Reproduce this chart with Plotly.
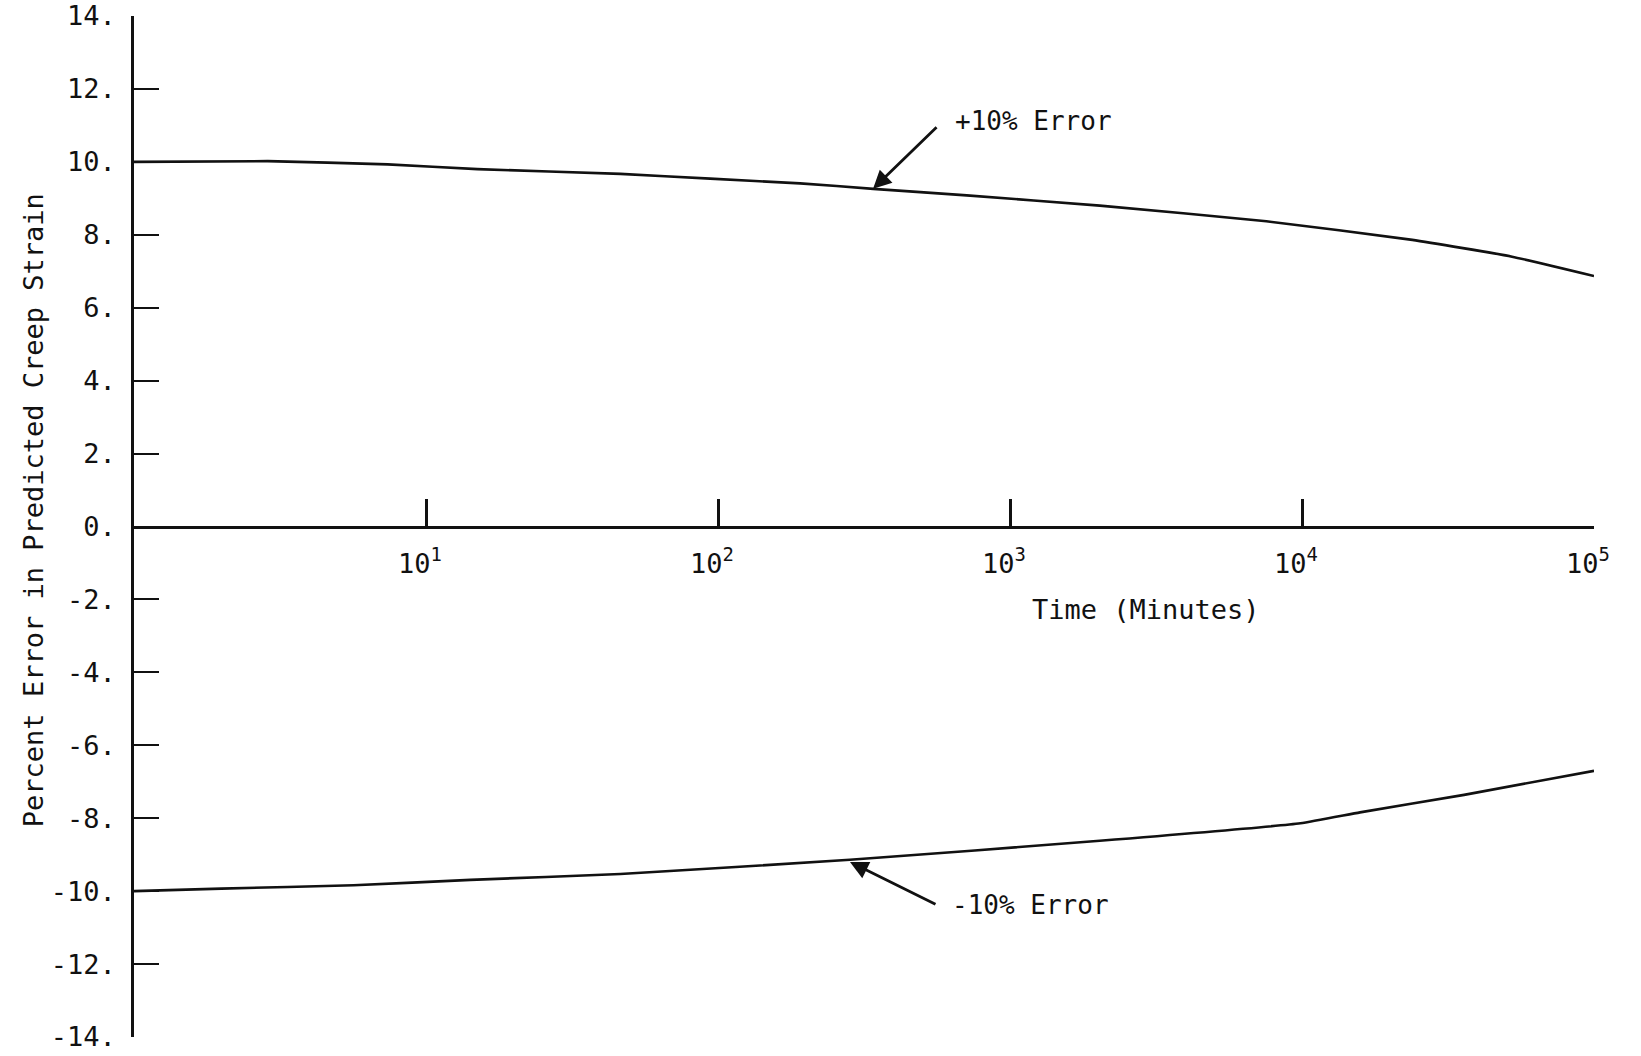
import plotly.graph_objects as go

# Time axis (minutes) and percent error in predicted creep strain
time_upper = [1, 2.87, 7.39, 15.0, 46.3, 94, 191, 340, 711, 2030, 7550, 23870, 52400, 100000]
err_upper = [10.0, 10.02, 9.93, 9.80, 9.67, 9.54, 9.41, 9.26, 9.08, 8.80, 8.37, 7.86, 7.40, 6.87]

time_lower = [1, 1.99, 5.65, 14.2, 46.3, 283, 2030, 9880, 15800, 35900, 100000]
err_lower = [-10.0, -9.93, -9.84, -9.69, -9.53, -9.14, -8.62, -8.14, -7.84, -7.36, -6.70]

y_ticks = list(range(-14, 15, 2))
y_tick_text = [f"{v}." for v in y_ticks]
x_ticks = [10, 100, 1000, 10000, 100000]
x_tick_text = ["10<sup>1</sup>", "10<sup>2</sup>", "10<sup>3</sup>", "10<sup>4</sup>", "10<sup>5</sup>"]

FONT = "DejaVu Sans Mono"
INK = "#111111"

fig = go.Figure()
fig.add_trace(go.Scatter(x=time_upper, y=err_upper, mode="lines",
                         line=dict(color=INK, width=2.6, shape="spline", smoothing=0.4),
                         name="+10% Error", showlegend=False))
fig.add_trace(go.Scatter(x=time_lower, y=err_lower, mode="lines",
                         line=dict(color=INK, width=2.6, shape="spline", smoothing=0.4),
                         name="-10% Error", showlegend=False))

# Arrows pointing at each curve
fig.add_annotation(x=2.531, y=9.26, xref="x", yref="y", text="", showarrow=True,
                   ax=65, ay=-63,
                   arrowhead=2, arrowsize=1.3, arrowwidth=2.8, arrowcolor=INK)
fig.add_annotation(x=2.452, y=-9.2, xref="x", yref="y", text="", showarrow=True,
                   ax=87, ay=43,
                   arrowhead=2, arrowsize=1.3, arrowwidth=2.8, arrowcolor=INK)
fig.add_annotation(x=2.804, y=11.13, xref="x", yref="y", text="+10% Error",
                   showarrow=False, xanchor="left", yanchor="middle",
                   font=dict(family=FONT, size=26, color=INK))
fig.add_annotation(x=2.794, y=-10.38, xref="x", yref="y", text="-10% Error",
                   showarrow=False, xanchor="left", yanchor="middle",
                   font=dict(family=FONT, size=26, color=INK))

# Axis titles
fig.add_annotation(x=0, xref="paper", xshift=-101, y=0.516, yref="paper",
                   text="Percent Error in Predicted Creep Strain", textangle=-90,
                   showarrow=False, xanchor="center", yanchor="middle",
                   font=dict(family=FONT, size=27, color=INK))
fig.add_annotation(x=0.693, xref="paper", y=0.419, yref="paper",
                   text="Time (Minutes)", showarrow=False,
                   xanchor="center", yanchor="middle",
                   font=dict(family=FONT, size=27, color=INK))

fig.update_layout(
    width=1641, height=1056,
    margin=dict(l=134, r=47, t=16, b=19),
    paper_bgcolor="white", plot_bgcolor="white",
    font=dict(family=FONT, color=INK),
    xaxis=dict(type="log", range=[0, 5], anchor="free", position=0.5,
               automargin=False,
               showline=True, linecolor=INK, linewidth=2.6,
               showgrid=False, zeroline=False,
               ticks="inside", ticklen=27, tickwidth=3, tickcolor=INK,
               tickvals=x_ticks, ticktext=x_tick_text,
               ticklabelshift=-6, ticklabelstandoff=12,
               tickfont=dict(family=FONT, size=27, color=INK)),
    yaxis=dict(range=[-14, 14], automargin=False,
               showline=True, linecolor=INK, linewidth=2.6,
               showgrid=False, zeroline=False,
               ticks="inside", ticklen=25, tickwidth=2, tickcolor=INK,
               tickvals=y_ticks, ticktext=y_tick_text,
               ticklabelstandoff=10,
               tickfont=dict(family=FONT, size=27, color=INK)),
)

fig.write_html("out.html")
